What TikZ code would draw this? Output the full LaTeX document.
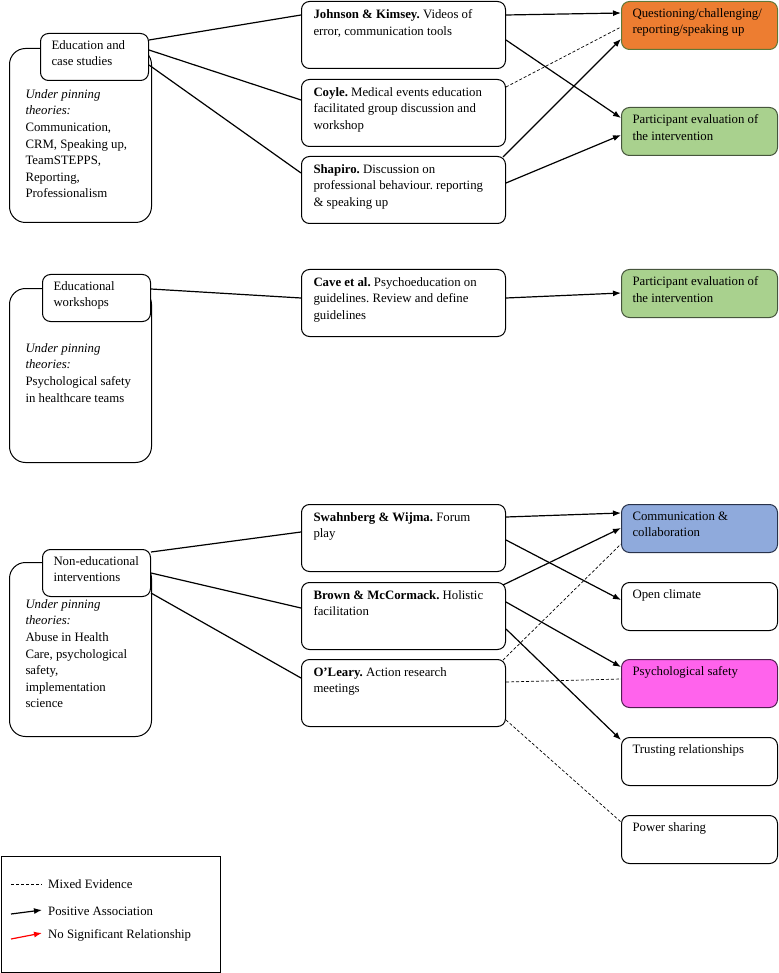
\documentclass[tikz,border=0pt]{standalone}
\usepackage{fontspec}
\setmainfont{Liberation Serif}
\usetikzlibrary{arrows.meta,positioning}

\definecolor{qorange}{HTML}{ED7D31}
\definecolor{qgreen}{HTML}{A9D18E}
\definecolor{qblue}{HTML}{8FAADC}
\definecolor{qpink}{HTML}{FF63EC}

% text blocks, top aligned
\newcommand{\studytext}[1]{\parbox[t][51pt][t]{180pt}{\raggedright #1}}
\newcommand{\outtext}[1]{\parbox[t][34pt][t]{134pt}{\raggedright #1}}
\newcommand{\themetext}[1]{\parbox[t][33pt][t]{86pt}{\raggedright #1}}
\newcommand{\theorytext}[2]{\parbox[t][158pt][t]{110pt}{\vspace*{#1}\raggedright #2}}

\tikzset{
  study/.style={draw, line width=1pt, rounded corners=8pt, fill=white, anchor=north west, inner xsep=12pt, inner ysep=8pt},
  outcome/.style={study, inner xsep=11pt, inner ysep=7pt},
  theme/.style={study, inner xsep=11pt, inner ysep=7pt},
  theory/.style={study, rounded corners=16pt, inner xsep=16pt, inner ysep=8pt},
  link/.style={line width=1.2pt},
  posarrow/.style={line width=1.2pt, -{Latex[length=8pt,width=6pt]}},
  mixedline/.style={line width=0.7pt, dash pattern=on 3pt off 2pt}
}

\begin{document}
\frenchspacing
\begin{tikzpicture}[x=1pt, y=-1pt, every node/.style={font=\fontsize{12.8}{16.6}\selectfont}]
  \useasboundingbox (0,0) rectangle (778,973);

  % --- education and case studies
  \node[theory] (eduth) at (9,48) {\theorytext{33pt}{\textit{Under pinning\\theories:}\\Communication,\\CRM, Speaking up,\\TeamSTEPPS,\\Reporting,\\Professionalism}};
  \node[theme] (edu) at (40,33) {\themetext{Education and\\case studies}};
  \node[study] (johnson) at (301,1) {\studytext{\textbf{Johnson \& Kimsey.} Videos of\\error, communication tools}};
  \node[study] (coyle) at (301,79) {\studytext{\textbf{Coyle.} Medical events education\\facilitated group discussion and\\workshop}};
  \node[study] (shapiro) at (301,156) {\studytext{\textbf{Shapiro.} Discussion on\\professional behaviour. reporting\\\& speaking up}};
  \node[outcome, fill=qorange, draw={rgb,255:red,95;green,120;blue,55}] (quest) at (621,1) {\outtext{Questioning/challenging/\\reporting/speaking up}};
  \node[outcome, fill=qgreen, draw={rgb,255:red,70;green,85;blue,60}] (evala) at (621,107) {\outtext{Participant evaluation of\\the intervention}};

  \draw[link] ([yshift=-7pt]edu.north east) -- ([yshift=-14pt]johnson.north west);
  \draw[link] ([yshift=-17pt]edu.north east) -- ([yshift=-21pt]coyle.north west);
  \draw[link] ([yshift=-32pt]edu.north east) -- ([yshift=-17pt]shapiro.north west);

  \draw[posarrow] ([yshift=-14pt]johnson.north east) -- ([yshift=-12pt]quest.north west);
  \draw[posarrow] ([yshift=-39pt]johnson.north east) -- ([yshift=-11pt]evala.north west);
  \draw[mixedline] ([yshift=-8pt]coyle.north east) -- ([yshift=-26pt]quest.north west);
  \draw[posarrow] ([xshift=-3pt,yshift=-1pt]shapiro.north east) -- ([yshift=11pt]quest.south west);
  \draw[posarrow] ([yshift=-27pt]shapiro.north east) -- ([yshift=-28pt]evala.north west);

  % --- educational workshops
  \node[theory] (workth) at (9,288) {\theorytext{47pt}{\textit{Under pinning\\theories:}\\Psychological safety\\in healthcare teams}};
  \node[theme] (work) at (42,274) {\themetext{Educational\\workshops}};
  \node[study] (cave) at (301,269) {\studytext{\textbf{Cave et al.} Psychoeducation on\\guidelines. Review and define\\guidelines}};
  \node[outcome, fill=qgreen, draw={rgb,255:red,70;green,85;blue,60}] (evalb) at (621,269) {\outtext{Participant evaluation of\\the intervention}};

  \draw[link] ([yshift=-15pt]work.north east) -- ([yshift=-29pt]cave.north west);
  \draw[posarrow] ([yshift=-29pt]cave.north east) -- ([yshift=-24pt]evalb.north west);

  % --- non-educational interventions
  \node[theory] (nonth) at (9,562) {\theorytext{29pt}{\textit{Under pinning\\theories:}\\Abuse in Health\\Care, psychological\\safety,\\implementation\\science}};
  \node[theme] (nonedu) at (42,549) {\themetext{Non-educational\\interventions}};
  \node[study] (swahn) at (301,504) {\studytext{\textbf{Swahnberg \& Wijma.} Forum\\play}};
  \node[study] (brown) at (301,582) {\studytext{\textbf{Brown \& McCormack.} Holistic\\facilitation}};
  \node[study] (oleary) at (301,659) {\studytext{\textbf{O’Leary.} Action research\\meetings}};
  \node[outcome, fill=qblue, draw={rgb,255:red,40;green,50;blue,75}] (comm) at (621,504) {\outtext{Communication \&\\collaboration}};
  \node[outcome] (open) at (621,582) {\outtext{Open climate}};
  \node[outcome, fill=qpink, draw={rgb,255:red,80;green,30;blue,80}] (psych) at (621,659) {\outtext{Psychological safety}};
  \node[outcome] (trust) at (621,737) {\outtext{Trusting relationships}};
  \node[outcome] (power) at (621,815) {\outtext{Power sharing}};

  \draw[link] ([yshift=-3pt]nonedu.north east) -- ([yshift=-28pt]swahn.north west);
  \draw[link] ([yshift=-24pt]nonedu.north east) -- ([yshift=-26pt]brown.north west);
  \draw[link] ([yshift=-44pt]nonedu.north east) -- ([yshift=-19pt]oleary.north west);

  \draw[posarrow] ([yshift=-13pt]swahn.north east) -- ([yshift=-9pt]comm.north west);
  \draw[posarrow] ([yshift=-36pt]swahn.north east) -- ([yshift=-18pt]open.north west);
  \draw[posarrow] ([xshift=-3pt,yshift=-3pt]brown.north east) -- ([yshift=-24pt]comm.north west);
  \draw[posarrow] ([yshift=-20pt]brown.north east) -- ([yshift=-8pt]psych.north west);
  \draw[posarrow] ([yshift=-47pt]brown.north east) -- ([yshift=-3pt]trust.north west);
  \draw[mixedline] ([xshift=-3pt,yshift=-1pt]oleary.north east) -- ([yshift=9pt]comm.south west);
  \draw[mixedline] ([yshift=-23pt]oleary.north east) -- ([yshift=-20pt]psych.north west);
  \draw[mixedline] ([yshift=-61pt]oleary.north east) -- ([yshift=-7pt]power.north west);

  % --- legend
  \node[draw, line width=0.8pt, anchor=north west, minimum width=219pt, minimum height=116pt] (legend) at (1,856) {};
  \coordinate (m1) at (11,884);  \coordinate (m2) at (42,884);
  \coordinate (p1) at (11,914);  \coordinate (p2) at (42,910);
  \coordinate (n1) at (11,939);  \coordinate (n2) at (42,933);
  \draw[mixedline] (m1) -- (m2);
  \draw[posarrow] (p1) -- (p2);
  \draw[posarrow, red] (n1) -- (n2);
  \node[anchor=west, inner sep=0pt] (lmixed) at (48,884) {Mixed Evidence};
  \node[anchor=west, inner sep=0pt] (lpos) at (48,911) {Positive Association};
  \node[anchor=west, inner sep=0pt] (lnone) at (48,935) {No Significant Relationship};
\end{tikzpicture}
\end{document}
